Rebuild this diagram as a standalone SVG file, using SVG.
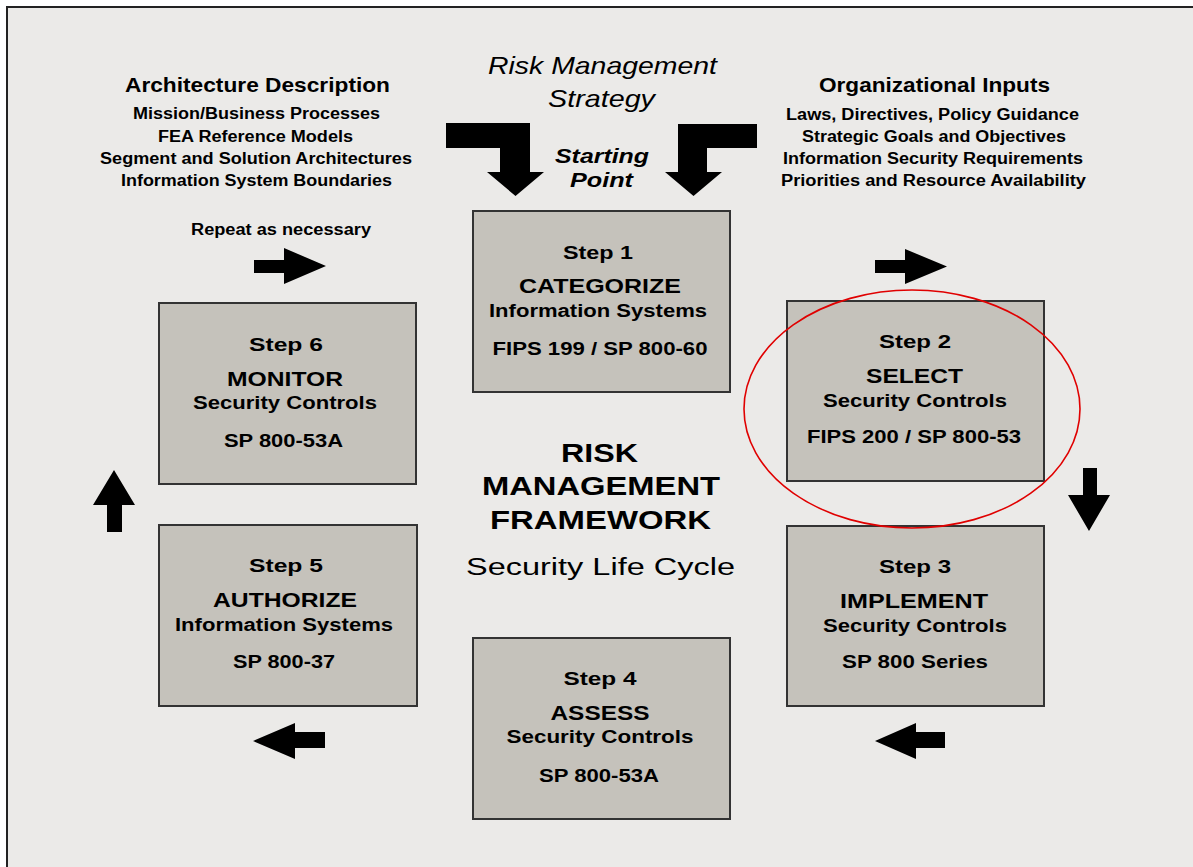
<svg xmlns="http://www.w3.org/2000/svg" width="1193" height="867" viewBox="0 0 1193 867">
<style>
.t{font-family:"Liberation Sans",Arial,sans-serif;fill:#000;text-anchor:middle}
.b{font-weight:bold}
.box{fill:#c5c2bb;stroke:#333;stroke-width:2}
.hd{font-size:19px;font-weight:bold}
.ti{font-size:20px;font-weight:bold}
.sb{font-size:18px;font-weight:bold}
.in{font-size:16px;font-weight:bold}
.ar{fill:#000}
</style>
<rect x="0" y="0" width="1193" height="867" fill="#ffffff"/>
<rect x="7" y="7" width="1190" height="864" fill="#ebeae8" stroke="#222" stroke-width="2"/>

<g id="architecture-description">
<text class="t b" x="257.5" y="92" font-size="21" textLength="265" lengthAdjust="spacingAndGlyphs">Architecture Description</text>
<text class="t in" x="256.5" y="119" textLength="247" lengthAdjust="spacingAndGlyphs">Mission/Business Processes</text>
<text class="t in" x="255.5" y="142" textLength="195" lengthAdjust="spacingAndGlyphs">FEA Reference Models</text>
<text class="t in" x="256" y="164" textLength="312" lengthAdjust="spacingAndGlyphs">Segment and Solution Architectures</text>
<text class="t in" x="256.5" y="186" textLength="271" lengthAdjust="spacingAndGlyphs">Information System Boundaries</text>
<text class="t in" x="281" y="235" textLength="180" lengthAdjust="spacingAndGlyphs">Repeat as necessary</text>
</g>

<g id="risk-management-strategy">
<text class="t" x="602.5" y="74" font-size="24" font-style="italic" textLength="229" lengthAdjust="spacingAndGlyphs">Risk Management</text>
<text class="t" x="601.5" y="107" font-size="24" font-style="italic" textLength="107" lengthAdjust="spacingAndGlyphs">Strategy</text>
<text class="t b" x="602" y="163" font-size="21" font-style="italic" textLength="94" lengthAdjust="spacingAndGlyphs">Starting</text>
<text class="t b" x="601.5" y="187" font-size="21" font-style="italic" textLength="63" lengthAdjust="spacingAndGlyphs">Point</text>
</g>

<g id="organizational-inputs">
<text class="t b" x="934.5" y="92" font-size="21" textLength="231" lengthAdjust="spacingAndGlyphs">Organizational Inputs</text>
<text class="t in" x="932.5" y="120" textLength="293" lengthAdjust="spacingAndGlyphs">Laws, Directives, Policy Guidance</text>
<text class="t in" x="934" y="142" textLength="264" lengthAdjust="spacingAndGlyphs">Strategic Goals and Objectives</text>
<text class="t in" x="933" y="164" textLength="300" lengthAdjust="spacingAndGlyphs">Information Security Requirements</text>
<text class="t in" x="933.5" y="186" textLength="305" lengthAdjust="spacingAndGlyphs">Priorities and Resource Availability</text>
</g>

<g id="step1">
<rect class="box" x="473" y="211" width="257" height="181"/>
<text class="t hd" x="598" y="259" textLength="70" lengthAdjust="spacingAndGlyphs">Step 1</text>
<text class="t ti" x="600" y="293" textLength="162" lengthAdjust="spacingAndGlyphs">CATEGORIZE</text>
<text class="t sb" x="598" y="317" textLength="218" lengthAdjust="spacingAndGlyphs">Information Systems</text>
<text class="t sb" x="600" y="355" textLength="215" lengthAdjust="spacingAndGlyphs">FIPS 199 / SP 800-60</text>
</g>

<g id="step2">
<rect class="box" x="787" y="301" width="257" height="180"/>
<text class="t hd" x="915" y="348" textLength="72" lengthAdjust="spacingAndGlyphs">Step 2</text>
<text class="t ti" x="914.5" y="383" textLength="97" lengthAdjust="spacingAndGlyphs">SELECT</text>
<text class="t sb" x="915" y="407" textLength="184" lengthAdjust="spacingAndGlyphs">Security Controls</text>
<text class="t sb" x="914" y="443" textLength="214" lengthAdjust="spacingAndGlyphs">FIPS 200 / SP 800-53</text>
</g>

<g id="step3">
<rect class="box" x="787" y="526" width="257" height="180"/>
<text class="t hd" x="915" y="573" textLength="72" lengthAdjust="spacingAndGlyphs">Step 3</text>
<text class="t ti" x="914" y="608" textLength="148" lengthAdjust="spacingAndGlyphs">IMPLEMENT</text>
<text class="t sb" x="915" y="632" textLength="184" lengthAdjust="spacingAndGlyphs">Security Controls</text>
<text class="t sb" x="915" y="668" textLength="146" lengthAdjust="spacingAndGlyphs">SP 800 Series</text>
</g>

<g id="step4">
<rect class="box" x="473" y="638" width="257" height="181"/>
<text class="t hd" x="600" y="685" textLength="73" lengthAdjust="spacingAndGlyphs">Step 4</text>
<text class="t ti" x="600" y="720" textLength="99" lengthAdjust="spacingAndGlyphs">ASSESS</text>
<text class="t sb" x="600" y="743" textLength="187" lengthAdjust="spacingAndGlyphs">Security Controls</text>
<text class="t sb" x="599" y="782" textLength="120" lengthAdjust="spacingAndGlyphs">SP 800-53A</text>
</g>

<g id="step5">
<rect class="box" x="159" y="525" width="258" height="181"/>
<text class="t hd" x="286" y="572" textLength="74" lengthAdjust="spacingAndGlyphs">Step 5</text>
<text class="t ti" x="285" y="607" textLength="144" lengthAdjust="spacingAndGlyphs">AUTHORIZE</text>
<text class="t sb" x="284" y="631" textLength="218" lengthAdjust="spacingAndGlyphs">Information Systems</text>
<text class="t sb" x="284" y="668" textLength="102" lengthAdjust="spacingAndGlyphs">SP 800-37</text>
</g>

<g id="step6">
<rect class="box" x="159" y="303" width="257" height="181"/>
<text class="t hd" x="286" y="351" textLength="74" lengthAdjust="spacingAndGlyphs">Step 6</text>
<text class="t ti" x="285" y="386" textLength="116" lengthAdjust="spacingAndGlyphs">MONITOR</text>
<text class="t sb" x="285" y="409" textLength="184" lengthAdjust="spacingAndGlyphs">Security Controls</text>
<text class="t sb" x="283.5" y="447" textLength="119" lengthAdjust="spacingAndGlyphs">SP 800-53A</text>
</g>

<g id="center-title">
<text class="t b" x="599.5" y="462" font-size="26" textLength="77" lengthAdjust="spacingAndGlyphs">RISK</text>
<text class="t b" x="601" y="495" font-size="26" textLength="238" lengthAdjust="spacingAndGlyphs">MANAGEMENT</text>
<text class="t b" x="600.5" y="529" font-size="26" textLength="221" lengthAdjust="spacingAndGlyphs">FRAMEWORK</text>
<text class="t" x="600.5" y="575" font-size="23" textLength="269" lengthAdjust="spacingAndGlyphs">Security Life Cycle</text>
</g>

<g id="highlight">
<ellipse cx="912" cy="409" rx="168" ry="119" fill="none" stroke="#e00000" stroke-width="1.6"/>
</g>

<g id="connectors">
<polygon class="ar" points="446,123 530,123 530,172 544,172 515.5,196 487,172 500,172 500,148 446,148"/>
<polygon class="ar" points="757,124 757,148 707,148 707,172 722,172 693.5,196 665,172 678,172 678,124"/>
<polygon class="ar" points="254,260 284,260 284,248 326,266 284,284 284,273 254,273"/>
<polygon class="ar" points="875,260 905,260 905,249 947,266.5 905,284 905,273 875,273"/>
<polygon class="ar" points="1083,468 1097,468 1097,495 1110,495 1089,531 1068,495 1083,495"/>
<polygon class="ar" points="945,732 916,732 916,723 875,741 916,759 916,748 945,748"/>
<polygon class="ar" points="325,732 295,732 295,723 253,741 295,759 295,748 325,748"/>
<polygon class="ar" points="107,532 122,532 122,505 135,505 114,470 93,505 107,505"/>
</g>
</svg>
